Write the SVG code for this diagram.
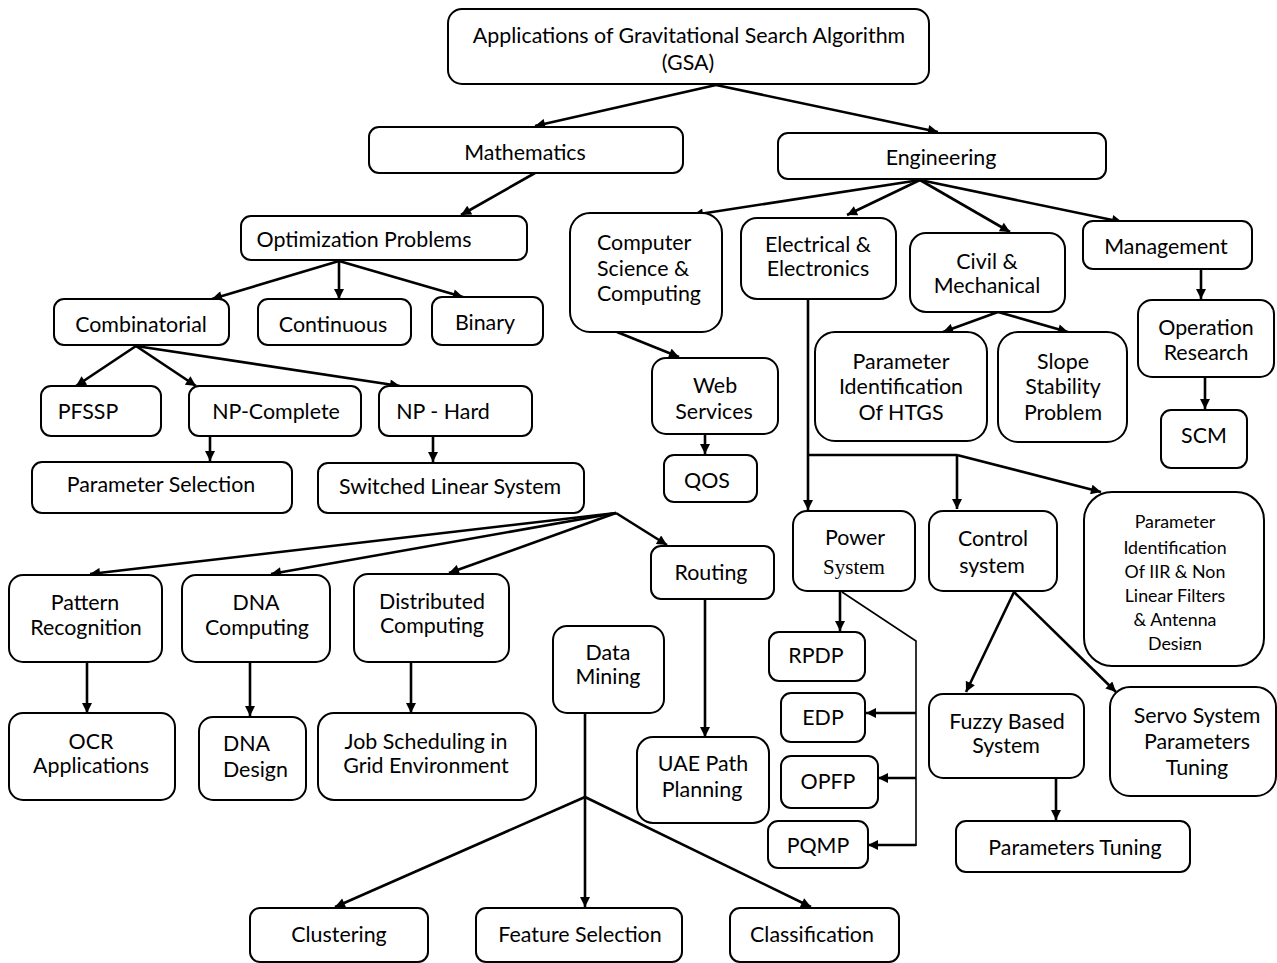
<svg xmlns="http://www.w3.org/2000/svg" width="1277" height="963" viewBox="0 0 1277 963">
<defs>
<style>
.b{fill:#fff;stroke:#000;stroke-width:2}
.t{font-family:Lato,"Liberation Sans",sans-serif;font-size:21.4px;fill:#000;text-anchor:middle}
.s{text-anchor:start}
.sm{font-size:17.8px}
.serif{font-family:"Liberation Serif",serif;font-size:21px}
.c{fill:none;stroke:#000;stroke-width:2.6}
.thin{fill:none;stroke:#000;stroke-width:1.6}
</style>
<marker id="a" viewBox="0 0 10 10" refX="10" refY="5" markerWidth="11" markerHeight="10" markerUnits="userSpaceOnUse" orient="auto">
<path d="M0,0 L10,5 L0,10 z" fill="#000"/>
</marker>
<clipPath id="clipIIR"><rect x="1084" y="492" width="180" height="158"/></clipPath>
</defs>
<rect width="1277" height="963" fill="#fff"/>

<g id="connectors">
<line class="c" x1="716" y1="85" x2="535" y2="126" marker-end="url(#a)"/>
<line class="c" x1="716" y1="85" x2="938" y2="132" marker-end="url(#a)"/>
<line class="c" x1="535" y1="173" x2="461" y2="215" marker-end="url(#a)"/>
<line class="c" x1="339" y1="261" x2="212" y2="299" marker-end="url(#a)"/>
<line class="c" x1="339" y1="261" x2="339" y2="299" marker-end="url(#a)"/>
<line class="c" x1="339" y1="261" x2="463" y2="297" marker-end="url(#a)"/>
<line class="c" x1="136" y1="346" x2="76" y2="386" marker-end="url(#a)"/>
<line class="c" x1="136" y1="346" x2="196" y2="386" marker-end="url(#a)"/>
<line class="c" x1="136" y1="346" x2="400" y2="386" marker-end="url(#a)"/>
<line class="c" x1="210" y1="436" x2="210" y2="461" marker-end="url(#a)"/>
<line class="c" x1="433" y1="436" x2="433" y2="462" marker-end="url(#a)"/>
<line class="c" x1="616" y1="513" x2="90" y2="574" marker-end="url(#a)"/>
<line class="c" x1="616" y1="513" x2="271" y2="574" marker-end="url(#a)"/>
<line class="c" x1="616" y1="513" x2="449" y2="573" marker-end="url(#a)"/>
<line class="c" x1="616" y1="513" x2="667" y2="545" marker-end="url(#a)"/>
<line class="c" x1="87" y1="662" x2="87" y2="713" marker-end="url(#a)"/>
<line class="c" x1="250" y1="662" x2="250" y2="716" marker-end="url(#a)"/>
<line class="c" x1="411" y1="662" x2="411" y2="713" marker-end="url(#a)"/>
<line class="c" x1="705" y1="599" x2="705" y2="737" marker-end="url(#a)"/>
<line class="c" x1="585" y1="713" x2="585" y2="907" marker-end="url(#a)"/>
<line class="c" x1="585" y1="797" x2="335" y2="907" marker-end="url(#a)"/>
<line class="c" x1="585" y1="797" x2="811" y2="907" marker-end="url(#a)"/>
<line class="c" x1="920" y1="180" x2="693" y2="215" marker-end="url(#a)"/>
<line class="c" x1="920" y1="180" x2="847" y2="215" marker-end="url(#a)"/>
<line class="c" x1="920" y1="180" x2="1010" y2="232" marker-end="url(#a)"/>
<line class="c" x1="920" y1="180" x2="1122" y2="222" marker-end="url(#a)"/>
<line class="c" x1="617" y1="332" x2="679" y2="357" marker-end="url(#a)"/>
<line class="c" x1="705" y1="434" x2="705" y2="454" marker-end="url(#a)"/>
<line class="c" x1="998" y1="312" x2="943" y2="332" marker-end="url(#a)"/>
<line class="c" x1="998" y1="312" x2="1068" y2="332" marker-end="url(#a)"/>
<line class="c" x1="1201" y1="269" x2="1201" y2="299" marker-end="url(#a)"/>
<line class="c" x1="1205" y1="377" x2="1205" y2="409" marker-end="url(#a)"/>
<line class="c" x1="808" y1="299" x2="808" y2="510" marker-end="url(#a)"/>
<line class="c" x1="807" y1="455" x2="957" y2="455"/>
<line class="c" x1="957" y1="455" x2="957" y2="509" marker-end="url(#a)"/>
<line class="c" x1="957" y1="455" x2="1101" y2="492" marker-end="url(#a)"/>
<line class="c" x1="840" y1="591" x2="840" y2="631" marker-end="url(#a)"/>
<polyline class="thin" points="842,592 916,641 916,846"/>
<line class="c" x1="916" y1="713" x2="866" y2="713" marker-end="url(#a)"/>
<line class="c" x1="916" y1="778" x2="878" y2="778" marker-end="url(#a)"/>
<line class="c" x1="916" y1="845" x2="868" y2="845" marker-end="url(#a)"/>
<line class="c" x1="1014" y1="592" x2="966" y2="692" marker-end="url(#a)"/>
<line class="c" x1="1014" y1="592" x2="1116" y2="692" marker-end="url(#a)"/>
<line class="c" x1="1056" y1="778" x2="1056" y2="820" marker-end="url(#a)"/>
</g>

<g id="root"><rect class="b" x="448" y="9" width="481" height="75" rx="14"/>
<text class="t" x="689" y="43">Applications of Gravitational Search Algorithm</text>
<text class="t" x="688" y="70">(GSA)</text></g>

<g id="mathematics"><rect class="b" x="369" y="127" width="314" height="46" rx="10"/>
<text class="t" x="525" y="160">Mathematics</text></g>

<g id="engineering"><rect class="b" x="778" y="133" width="328" height="46" rx="10"/>
<text class="t" x="941" y="165">Engineering</text></g>

<g id="optimization"><rect class="b" x="241" y="216" width="286" height="44" rx="10"/>
<text class="t" x="364" y="247">Optimization Problems</text></g>

<g id="combinatorial"><rect class="b" x="54" y="299" width="175" height="46" rx="10"/>
<text class="t" x="141" y="332">Combinatorial</text></g>

<g id="continuous"><rect class="b" x="258" y="299" width="153" height="46" rx="10"/>
<text class="t" x="333" y="332">Continuous</text></g>

<g id="binary"><rect class="b" x="432" y="297" width="111" height="48" rx="10"/>
<text class="t" x="485" y="330">Binary</text></g>

<g id="pfssp"><rect class="b" x="41" y="386" width="120" height="50" rx="10"/>
<text class="t" x="88" y="419">PFSSP</text></g>

<g id="np-complete"><rect class="b" x="189" y="386" width="172" height="50" rx="10"/>
<text class="t" x="276" y="419">NP-Complete</text></g>

<g id="np-hard"><rect class="b" x="379" y="386" width="153" height="50" rx="10"/>
<text class="t" x="443" y="419">NP - Hard</text></g>

<g id="parameter-selection"><rect class="b" x="32" y="462" width="260" height="51" rx="10"/>
<text class="t" x="161" y="492">Parameter Selection</text></g>

<g id="switched-linear-system"><rect class="b" x="318" y="463" width="266" height="50" rx="10"/>
<text class="t" x="450" y="494">Switched Linear System</text></g>

<g id="computer-science"><rect class="b" x="570" y="213" width="152" height="119" rx="20"/>
<text class="t s" x="597" y="250">Computer</text>
<text class="t s" x="597" y="276">Science &amp;</text>
<text class="t s" x="597" y="301">Computing</text></g>

<g id="electrical"><rect class="b" x="741" y="218" width="155" height="81" rx="16"/>
<text class="t" x="818" y="252">Electrical &amp;</text>
<text class="t" x="818" y="276">Electronics</text></g>

<g id="civil"><rect class="b" x="910" y="233" width="155" height="79" rx="16"/>
<text class="t" x="987" y="269">Civil &amp;</text>
<text class="t" x="987" y="293">Mechanical</text></g>

<g id="management"><rect class="b" x="1083" y="221" width="169" height="48" rx="10"/>
<text class="t" x="1166" y="254">Management</text></g>

<g id="web-services"><rect class="b" x="652" y="358" width="126" height="76" rx="14"/>
<text class="t" x="715" y="393">Web</text>
<text class="t" x="714" y="419">Services</text></g>

<g id="qos"><rect class="b" x="664" y="455" width="93" height="47" rx="10"/>
<text class="t" x="707" y="488">QOS</text></g>

<g id="htgs"><rect class="b" x="815" y="332" width="172" height="109" rx="20"/>
<text class="t" x="901" y="369">Parameter</text>
<text class="t" x="901" y="394">Identification</text>
<text class="t" x="901" y="420">Of HTGS</text></g>

<g id="slope"><rect class="b" x="998" y="332" width="129" height="110" rx="20"/>
<text class="t" x="1063" y="369">Slope</text>
<text class="t" x="1063" y="394">Stability</text>
<text class="t" x="1063" y="420">Problem</text></g>

<g id="operation-research"><rect class="b" x="1138" y="300" width="136" height="77" rx="14"/>
<text class="t" x="1206" y="335">Operation</text>
<text class="t" x="1206" y="360">Research</text></g>

<g id="scm"><rect class="b" x="1161" y="410" width="86" height="58" rx="10"/>
<text class="t" x="1204" y="443">SCM</text></g>

<g id="pattern-recognition"><rect class="b" x="9" y="575" width="153" height="87" rx="14"/>
<text class="t" x="85" y="610">Pattern</text>
<text class="t" x="86" y="635">Recognition</text></g>

<g id="dna-computing"><rect class="b" x="182" y="575" width="148" height="87" rx="14"/>
<text class="t" x="256" y="610">DNA</text>
<text class="t" x="257" y="635">Computing</text></g>

<g id="distributed-computing"><rect class="b" x="354" y="574" width="155" height="88" rx="14"/>
<text class="t" x="432" y="609">Distributed</text>
<text class="t" x="432" y="633">Computing</text></g>

<g id="routing"><rect class="b" x="651" y="546" width="123" height="53" rx="10"/>
<text class="t" x="711" y="580">Routing</text></g>

<g id="power-system"><rect class="b" x="793" y="511" width="122" height="80" rx="14"/>
<text class="t" x="855" y="545">Power</text>
<text class="t serif" x="854" y="574">System</text></g>

<g id="control-system"><rect class="b" x="929" y="511" width="128" height="80" rx="14"/>
<text class="t" x="993" y="546">Control</text>
<text class="t" x="992" y="573">system</text></g>

<g id="iir"><rect class="b" x="1084" y="492" width="180" height="174" rx="28"/>
<g clip-path="url(#clipIIR)">
<text class="t sm" x="1175" y="528">Parameter</text>
<text class="t sm" x="1175" y="554">Identification</text>
<text class="t sm" x="1175" y="578">Of IIR &amp; Non</text>
<text class="t sm" x="1175" y="602">Linear Filters</text>
<text class="t sm" x="1175" y="626">&amp; Antenna</text>
<text class="t sm" x="1175" y="650">Design</text>
</g></g>

<g id="data-mining"><rect class="b" x="553" y="626" width="111" height="87" rx="14"/>
<text class="t" x="608" y="660">Data</text>
<text class="t" x="608" y="684">Mining</text></g>

<g id="uae"><rect class="b" x="637" y="737" width="132" height="86" rx="16"/>
<text class="t" x="703" y="771">UAE Path</text>
<text class="t" x="702" y="797">Planning</text></g>

<g id="rpdp"><rect class="b" x="769" y="632" width="96" height="49" rx="10"/>
<text class="t" x="816" y="663">RPDP</text></g>

<g id="edp"><rect class="b" x="781" y="693" width="84" height="49" rx="10"/>
<text class="t" x="823" y="725">EDP</text></g>

<g id="opfp"><rect class="b" x="781" y="756" width="97" height="52" rx="10"/>
<text class="t" x="828" y="789">OPFP</text></g>

<g id="pqmp"><rect class="b" x="768" y="821" width="100" height="47" rx="10"/>
<text class="t" x="818" y="853">PQMP</text></g>

<g id="fuzzy"><rect class="b" x="929" y="694" width="155" height="84" rx="14"/>
<text class="t" x="1007" y="729">Fuzzy Based</text>
<text class="t" x="1006" y="753">System</text></g>

<g id="servo"><rect class="b" x="1110" y="687" width="166" height="109" rx="20"/>
<text class="t" x="1197" y="723">Servo System</text>
<text class="t" x="1197" y="749">Parameters</text>
<text class="t" x="1197" y="775">Tuning</text></g>

<g id="ocr"><rect class="b" x="9" y="713" width="166" height="87" rx="14"/>
<text class="t" x="91" y="749">OCR</text>
<text class="t" x="91" y="773">Applications</text></g>

<g id="dna-design"><rect class="b" x="199" y="717" width="107" height="83" rx="14"/>
<text class="t s" x="223" y="751">DNA</text>
<text class="t s" x="223" y="777">Design</text></g>

<g id="job-scheduling"><rect class="b" x="318" y="713" width="218" height="87" rx="16"/>
<text class="t" x="426" y="749">Job Scheduling in</text>
<text class="t" x="426" y="773">Grid Environment</text></g>

<g id="parameters-tuning"><rect class="b" x="956" y="821" width="234" height="51" rx="10"/>
<text class="t" x="1075" y="855">Parameters Tuning</text></g>

<g id="clustering"><rect class="b" x="250" y="908" width="178" height="54" rx="10"/>
<text class="t" x="339" y="942">Clustering</text></g>

<g id="feature-selection"><rect class="b" x="476" y="908" width="206" height="54" rx="10"/>
<text class="t" x="580" y="942">Feature Selection</text></g>

<g id="classification"><rect class="b" x="730" y="908" width="169" height="54" rx="10"/>
<text class="t" x="812" y="942">Classification</text></g>
</svg>
